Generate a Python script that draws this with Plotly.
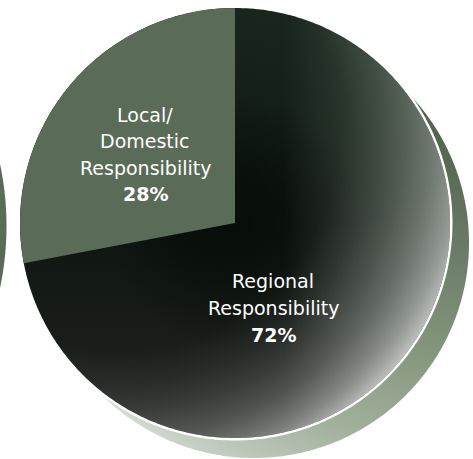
import numpy as np
import plotly.graph_objects as go

# ---- data ----
labels = ["Regional Responsibility", "Local/ Domestic Responsibility"]
values = [72, 28]
slice_colors = ["rgba(0,0,0,0)", "#5a6b57"]
regional_lines = ["Regional", "Responsibility"]
local_lines = ["Local/", "Domestic", "Responsibility"]
pct_labels = ["72%", "28%"]

# ---- geometry (pixels) ----
W, H = 473, 459
CX, CY, R = 235, 223, 215
FONT = "DejaVu Sans"
FS = 19


def circle(cx, cy, r, n=361):
    t = np.linspace(0, 2 * np.pi, n)
    return list(cx + r * np.cos(t)), list(cy + r * np.sin(t))


def spiked(x, y, gcx, gcy, gr):
    # zero-area spikes that set the bounding box so the radial gradient is centred at (gcx, gcy)
    x0, y0 = x[0], y[0]
    x = x + [gcx - gr, x0, gcx + gr, x0]
    y = y + [gcy - gr, y0, gcy + gr, y0]
    return x, y


def blob(x, y, **kw):
    return go.Scatter(x=x, y=y, mode="lines", fill="toself",
                      line=dict(width=0, simplify=False), hoverinfo="skip", **kw)


fig = go.Figure()

# left neighbouring circle
lx, ly = circle(-293.5, 226, 300)
fig.add_trace(blob(lx, ly, fillcolor="#5a6b57"))

# shadow circle
sx, sy = circle(CX + 19, CY + 20, R)
sx, sy = spiked(sx, sy, 480, 60, 500)
fig.add_trace(blob(sx, sy, fillgradient=dict(type="radial", colorscale=[
    [0.0, "#46573f"], [0.13, "#4e5f4b"], [0.38, "#6a7c66"],
    [0.6, "#86977f"], [0.8, "#a4b39f"], [0.96, "#c6cfc3"], [1.0, "#d2d9cf"]])))

# white rim
wx, wy = circle(CX, CY, R + 2.5)
fig.add_trace(blob(wx, wy, fillcolor="white"))

# dark base (vertical tint)
bx, by = circle(CX, CY, R)
fig.add_trace(blob(bx, by, fillgradient=dict(type="vertical", start=CY - R, stop=CY + R, colorscale=[
    [0.0, "#15231a"], [0.5, "#0c140e"], [1.0, "#1c1d1c"]])))

# darker core
fig.add_trace(blob(bx, by, fillgradient=dict(type="radial", colorscale=[
    [0.0, "rgba(0,6,2,0.7)"], [0.3, "rgba(0,6,2,0.45)"], [0.6, "rgba(0,6,2,0)"], [1.0, "rgba(0,6,2,0)"]])))

# greenish light from the right
fig.add_trace(blob(bx, by, fillgradient=dict(type="horizontal", start=285, stop=CX + R, colorscale=[
    [0.0, "rgba(175,192,172,0)"], [1.0, "rgba(175,192,172,0.36)"]])))

# light glow toward bottom-right
HL = "222,225,222"
glow = [(0.0, 0.0), (0.6, 0.02), (0.7, 0.09), (0.77, 0.17), (0.84, 0.28), (0.87, 0.35),
        (0.9, 0.43), (0.93, 0.52), (0.96, 0.66), (0.99, 0.82), (1.0, 0.85)]
gx, gy = spiked(bx, by, 119, 126, 372)
fig.add_trace(blob(gx, gy, fillgradient=dict(type="radial", colorscale=[
    [p, f"rgba({HL},{a})"] for p, a in glow])))

# pie
fig.add_trace(go.Pie(labels=labels, values=values, sort=False, direction="clockwise",
                     rotation=0, hole=0, textinfo="none", hoverinfo="skip",
                     marker=dict(colors=slice_colors, line=dict(width=0)),
                     domain=dict(x=[(CX - R) / W, (CX + R) / W],
                                 y=[(H - CY - R) / H, (H - CY + R) / H])))

annotations = []


def add_lines(lines, pct, x, y0, dy):
    for i, t in enumerate(lines + ["<b>" + pct + "</b>"]):
        annotations.append(dict(x=x, y=y0 + i * dy, xref="x", yref="y", text=t, showarrow=False,
                                xanchor="center", yanchor="middle",
                                font=dict(family=FONT, size=FS, color="white")))


add_lines(local_lines, pct_labels[1], 145, 115, 26.3)
add_lines(regional_lines, pct_labels[0], 273, 281, 27)

fig.update_layout(
    width=W, height=H, margin=dict(l=0, r=0, t=0, b=0),
    paper_bgcolor="white", plot_bgcolor="white", showlegend=False,
    xaxis=dict(range=[0, W], visible=False, fixedrange=True),
    yaxis=dict(range=[H, 0], visible=False, fixedrange=True),
    annotations=annotations,
)

fig.write_html("out.html", config={"displayModeBar": False},
               post_script="document.body.style.margin='0px';")
